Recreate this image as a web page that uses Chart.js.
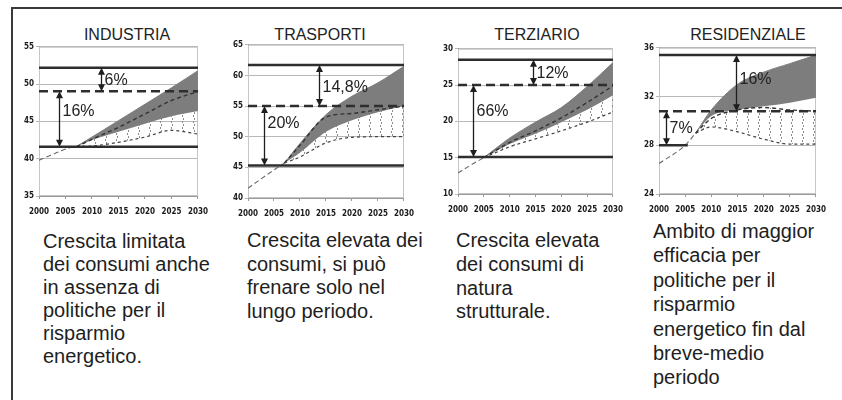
<!DOCTYPE html>
<html lang="it">
<head>
<meta charset="UTF-8">
<title>Consumi energetici per settore</title>
<script src="https://cdn.jsdelivr.net/npm/chart.js@4.4.1/dist/chart.umd.min.js"></script>
<style>
	body,html{margin:0;padding:0;background:#fff;}
	#page{position:relative;width:842px;height:400px;overflow:hidden;font-family:'Liberation Sans',Arial,sans-serif;color:#1e1e1e;}
	.frame{position:absolute;left:11px;top:7px;width:840px;height:400px;border-left:2px solid #3a3a3a;border-top:2px solid #3a3a3a;}
	.title{position:absolute;top:27px;width:160px;margin-left:-80px;text-align:center;font-size:16px;line-height:16px;color:#222;}
	.caption{position:absolute;font-size:20px;white-space:nowrap;}
	canvas{position:absolute;}
</style>
<script>
// tick labels
const X_TICKS = [2000, 2005, 2010, 2015, 2020, 2025, 2030];

// INDUSTRIA
const IND_Y_TICKS = [35, 40, 45, 50, 55];
const IND_HIST_YEARS = [2000, 2002, 2004, 2006, 2007];
const IND_HIST = [39.8, 40.4, 41.0, 41.5, 41.6];
const IND_YEARS = [2007, 2010, 2015, 2020, 2025, 2030];
const IND_UPPER = [41.6, 42.9, 45.1, 47.3, 49.5, 51.8];
const IND_MID = [41.6, 42.6, 44.2, 46.0, 47.8, 49.0];
const IND_LOWER = [41.6, 42.5, 43.6, 44.7, 45.7, 46.4];
const IND_LOWEST = [41.6, 41.7, 42.2, 42.9, 43.8, 43.3];
const IND_LEVELS = [52.2, 49.05, 41.6];
const IND_ARROWS = [[2011.7, 52.2, 49.05, '6%'], [2003.7, 49.05, 41.6, '16%']];

// TRASPORTI
const TRA_Y_TICKS = [40, 45, 50, 55, 60, 65];
const TRA_HIST_YEARS = [2000, 2004, 2007];
const TRA_HIST = [41.6, 44.0, 45.7];
const TRA_YEARS = [2007, 2010, 2015, 2020, 2025, 2030];
const TRA_UPPER = [45.7, 48.9, 53.6, 56.6, 58.8, 61.5];
const TRA_MID = [45.7, 48.6, 53.2, 53.8, 54.4, 55.0];
const TRA_LOWER = [45.7, 47.4, 50.8, 52.7, 54.0, 55.0];
const TRA_LOWEST = [45.7, 46.7, 49.0, 49.9, 50.0, 50.0];
const TRA_LEVELS = [61.7, 55.0, 45.3];
const TRA_ARROWS = [[2013.6, 61.7, 55.0, '14,8%'], [2003.1, 55.0, 45.3, '20%']];

// TERZIARIO
const TER_Y_TICKS = [10, 15, 20, 25, 30];
const TER_HIST_YEARS = [2000, 2003, 2005];
const TER_HIST = [12.9, 14.2, 15.0];
const TER_YEARS = [2005, 2010, 2015, 2020, 2025, 2030];
const TER_UPPER = [15.0, 17.7, 19.9, 21.9, 24.8, 28.1];
const TER_MID = [15.0, 17.1, 18.7, 20.5, 22.6, 24.9];
const TER_LOWER = [15.0, 16.9, 18.3, 19.9, 21.6, 23.6];
const TER_LOWEST = [15.0, 16.5, 17.6, 18.7, 19.9, 21.3];
const TER_LEVELS = [28.5, 25.0, 15.1];
const TER_ARROWS = [[2014.6, 28.5, 25.0, '12%'], [2003.0, 25.0, 15.1, '66%']];

// RESIDENZIALE
const RES_Y_TICKS = [24, 28, 32, 36];
const RES_HIST_YEARS = [2000, 2005, 2007];
const RES_HIST = [26.5, 28.0, 29.0];
const RES_YEARS = [2007, 2010, 2015, 2020, 2025, 2030];
const RES_UPPER = [29.0, 30.9, 33.0, 34.0, 34.7, 35.4];
const RES_MID = [29.0, 30.2, 30.9, 31.1, 30.9, 30.8];
const RES_LOWER = [29.0, 30.4, 30.9, 31.2, 31.5, 31.9];
const RES_LOWEST = [29.0, 29.5, 29.1, 28.5, 28.1, 28.1];
const RES_LEVELS = [35.4, 30.8, 28.0];
const RES_ARROWS = [[2014.8, 35.4, 30.8, '16%'], [2001.3, 30.8, 28.0, '7%']];

const TICK_FONT = {family: "'Liberation Sans Narrow','DejaVu Sans Condensed','Liberation Sans',sans-serif", size: 8, weight: 'bold'};
const AXIS_W = 22, AXIS_H = 24, PAD_T = 6, PAD_R = 8;

function pts(xs, ys){ return xs.map((x, i) => ({x: x, y: ys[i]})); }

function hatchPattern(){
	var c = document.createElement('canvas');
	c.width = 11; c.height = 6;
	var g = c.getContext('2d');
	g.fillStyle = '#8c8c8c';
	g.fillRect(1, 0, 1, 2);
	g.fillRect(0, 3, 1, 2);
	return g.createPattern(c, 'repeat');
}

// frame around the plot + the double arrows with their labels
const decorPlugin = {
	id: 'decor',
	beforeDatasetsDraw(chart){
		const a = chart.chartArea, ctx = chart.ctx;
		ctx.save();
		ctx.strokeStyle = '#c6c6c6';
		ctx.lineWidth = 1;
		ctx.strokeRect(a.left + .5, a.top + .5, a.width - 1, a.height - 1);
		ctx.restore();
	},
	afterDatasetsDraw(chart, args, opts){
		const ctx = chart.ctx, x = chart.scales.x, y = chart.scales.y;
		ctx.save();
		ctx.strokeStyle = '#1e1e1e';
		ctx.fillStyle = '#1e1e1e';
		ctx.lineWidth = 1.3;
		opts.arrows.forEach((ar, i) => {
			const px = Math.round(x.getPixelForValue(ar[0])) + .5;
			const p1 = y.getPixelForValue(ar[1]), p2 = y.getPixelForValue(ar[2]);
			ctx.beginPath();
			ctx.moveTo(px, p1 + 5); ctx.lineTo(px, p2 - 5);
			ctx.stroke();
			ctx.beginPath();
			ctx.moveTo(px, p1); ctx.lineTo(px - 3.5, p1 + 7); ctx.lineTo(px + 3.5, p1 + 7); ctx.closePath();
			ctx.moveTo(px, p2); ctx.lineTo(px - 3.5, p2 - 7); ctx.lineTo(px + 3.5, p2 - 7); ctx.closePath();
			ctx.fill();
			ctx.font = "16px 'Liberation Sans', Arial, sans-serif";
			ctx.textAlign = 'left';
			ctx.textBaseline = 'middle';
			ctx.fillStyle = '#222';
			ctx.fillText(ar[3], px + 3, p1 + (p2 - p1) * opts.labelAt[i]);
			ctx.fillStyle = '#1e1e1e';
		});
		ctx.restore();
	}
};

function makeChart(cfg){
	const cv = document.createElement('canvas');
	const w = (cfg.plotR - cfg.plotL) + AXIS_W + PAD_R;
	const h = (cfg.plotB - cfg.plotT) + PAD_T + AXIS_H;
	cv.width = w; cv.height = h;
	cv.style.left = (cfg.plotL - AXIS_W) + 'px';
	cv.style.top = (cfg.plotT - PAD_T) + 'px';
	document.getElementById('page').appendChild(cv);

	const solid = {borderColor: '#2e2e2e', borderWidth: 2.5, pointRadius: 0, fill: false};
	const lv = cfg.levels;
	const datasets = [
		Object.assign({data: pts([2000, 2030], [lv[0], lv[0]])}, solid),
		Object.assign({data: pts([2000, 2030], [lv[1], lv[1]]), borderDash: [9, 5], borderWidth: 3}, solid),
		Object.assign({data: pts([2000, cfg.bottomEnd], [lv[2], lv[2]])}, solid),
		{data: pts(cfg.years, cfg.mid), borderColor: '#333', borderWidth: 1.4, borderDash: [4, 3], pointRadius: 0, fill: false, cubicInterpolationMode: 'monotone'},
		{data: pts(cfg.histYears, cfg.hist), borderColor: '#6a6a6a', borderWidth: 1.1, borderDash: [5, 3], pointRadius: 0, fill: false, cubicInterpolationMode: 'monotone'},
		{data: pts(cfg.years, cfg.upper), borderColor: '#7d7d7d', borderWidth: 1, backgroundColor: '#7d7d7d', pointRadius: 0, fill: 6, cubicInterpolationMode: 'monotone'},
		{data: pts(cfg.years, cfg.lower), borderColor: 'rgba(0,0,0,0)', borderWidth: 1, pointRadius: 0, fill: false, cubicInterpolationMode: 'monotone'},
		{data: pts(cfg.years, cfg.lowest), borderColor: '#444', borderWidth: 1.2, borderDash: [3, 3], backgroundColor: hatchPattern(), pointRadius: 0, fill: cfg.hatchTo, cubicInterpolationMode: 'monotone'}
	];

	return new Chart(cv.getContext('2d'), {
		type: 'line',
		data: {datasets: datasets},
		options: {
			responsive: false,
			animation: false,
			devicePixelRatio: 1,
			layout: {padding: {top: PAD_T, right: PAD_R, left: 0, bottom: 0}},
			plugins: {
				legend: {display: false},
				tooltip: {enabled: false},
				decor: {arrows: cfg.arrows, labelAt: cfg.labelAt}
			},
			scales: {
				x: {
					type: 'linear', min: 2000, max: 2030,
					afterBuildTicks: s => { s.ticks = X_TICKS.map(v => ({value: v})); },
					afterFit: s => { s.height = AXIS_H; },
					ticks: {font: TICK_FONT, color: '#1a1a1a', padding: 8, maxRotation: 0, autoSkip: false, callback: v => String(v)},
					grid: {drawOnChartArea: false, tickLength: 3, color: '#999'},
					border: {color: '#999'}
				},
				y: {
					type: 'linear', min: cfg.yTicks[0], max: cfg.yTicks[cfg.yTicks.length - 1],
					afterBuildTicks: s => { s.ticks = cfg.yTicks.map(v => ({value: v})); },
					afterFit: s => { s.width = AXIS_W; },
					ticks: {font: TICK_FONT, color: '#1a1a1a', padding: 2, callback: v => String(v)},
					grid: {color: '#b8b8b8', tickLength: 3},
					border: {color: '#999'}
				}
			}
		},
		plugins: [decorPlugin]
	});
}

window.addEventListener('load', function(){
	makeChart({plotL: 39, plotR: 208, plotT: 46, plotB: 196, yTicks: IND_Y_TICKS,
		histYears: IND_HIST_YEARS, hist: IND_HIST, years: IND_YEARS, upper: IND_UPPER, mid: IND_MID,
		lower: IND_LOWER, lowest: IND_LOWEST, levels: IND_LEVELS, bottomEnd: 2030,
		arrows: IND_ARROWS, labelAt: [0.54, 0.36], hatchTo: 6});
	makeChart({plotL: 248, plotR: 414, plotT: 44, plotB: 198, yTicks: TRA_Y_TICKS,
		histYears: TRA_HIST_YEARS, hist: TRA_HIST, years: TRA_YEARS, upper: TRA_UPPER, mid: TRA_MID,
		lower: TRA_LOWER, lowest: TRA_LOWEST, levels: TRA_LEVELS, bottomEnd: 2030,
		arrows: TRA_ARROWS, labelAt: [0.54, 0.29], hatchTo: 3});
	makeChart({plotL: 458, plotR: 623, plotT: 48, plotB: 194, yTicks: TER_Y_TICKS,
		histYears: TER_HIST_YEARS, hist: TER_HIST, years: TER_YEARS, upper: TER_UPPER, mid: TER_MID,
		lower: TER_LOWER, lowest: TER_LOWEST, levels: TER_LEVELS, bottomEnd: 2030,
		arrows: TER_ARROWS, labelAt: [0.53, 0.37], hatchTo: 6});
	makeChart({plotL: 659, plotR: 826, plotT: 47, plotB: 194, yTicks: RES_Y_TICKS,
		histYears: RES_HIST_YEARS, hist: RES_HIST, years: RES_YEARS, upper: RES_UPPER, mid: RES_MID,
		lower: RES_LOWER, lowest: RES_LOWEST, levels: RES_LEVELS, bottomEnd: 2005.5,
		arrows: RES_ARROWS, labelAt: [0.44, 0.5], hatchTo: 3});
});
</script>
</head>
<body>
	<div id="page">
		<div class="frame"></div>
		<div class="title" style="left:127px;">INDUSTRIA</div>
		<div class="title" style="left:320px;">TRASPORTI</div>
		<div class="title" style="left:537px;">TERZIARIO</div>
		<div class="title" style="left:748px;">RESIDENZIALE</div>
		<div class="caption" style="left:43px;top:230px;line-height:23px;">Crescita limitata<br>dei consumi anche<br>in assenza di<br>politiche per il<br>risparmio<br>energetico.</div>
		<div class="caption" style="left:247px;top:229px;line-height:23.7px;">Crescita elevata dei<br>consumi, si può<br>frenare solo nel<br>lungo periodo.</div>
		<div class="caption" style="left:456px;top:229px;line-height:23.8px;">Crescita elevata<br>dei consumi di<br>natura<br>strutturale.</div>
		<div class="caption" style="left:653px;top:219px;line-height:24.4px;">Ambito di maggior<br>efficacia per<br>politiche per il<br>risparmio<br>energetico fin dal<br>breve-medio<br>periodo</div>
	</div>
</body>
</html>
